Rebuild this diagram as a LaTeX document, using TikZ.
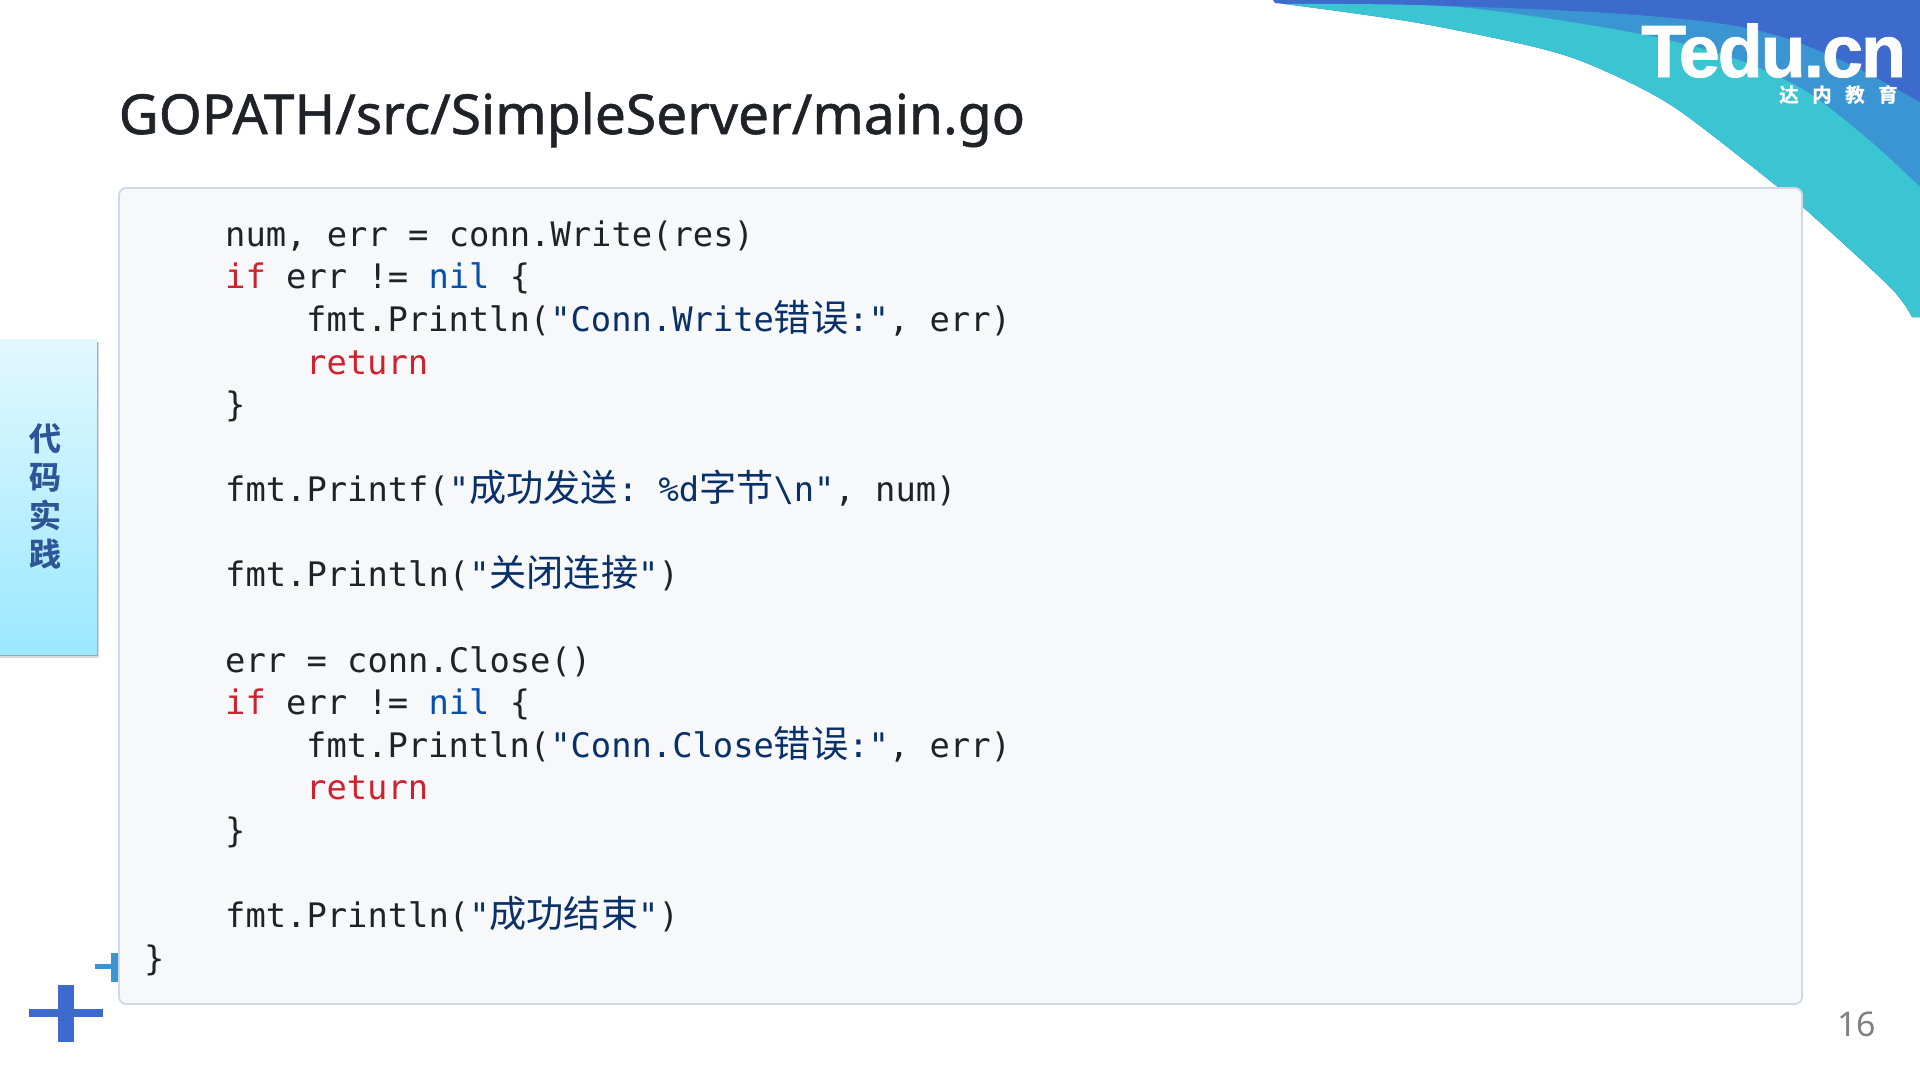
\documentclass[tikz,border=0pt]{standalone}
\usepackage{fontspec}
\setmainfont{Noto Sans}
\setmonofont{DejaVu Sans Mono}
\newfontfamily\cjkfont{Noto Sans CJK SC}[Scale=1.1]
\newfontfamily\tabfont{Noto Sans CJK SC Bold}[FakeBold=0.6]
\newfontfamily\titlefont{Noto Sans}[FakeBold=1]
\newfontfamily\logofont{Liberation Sans Bold}[LetterSpace=-3,FakeBold=1]
\definecolor{codetext}{HTML}{1F2328}
\definecolor{codekey}{HTML}{CF222E}
\definecolor{codenil}{HTML}{0550AE}
\definecolor{codestr}{HTML}{0A3069}
\definecolor{panelfill}{HTML}{F6F8FA}
\definecolor{panelline}{HTML}{CFD9E5}
\definecolor{swdark}{HTML}{3C6BCD}
\definecolor{swmid}{HTML}{3A95D2}
\definecolor{swteal}{HTML}{3BC5D2}
\definecolor{tabtop}{HTML}{E2F8FF}
\definecolor{tabbot}{HTML}{9BE8FF}
\newcommand{\cn}[1]{{\cjkfont #1}}
\newcommand{\kw}[1]{\textcolor{codekey}{#1}}
\newcommand{\nl}[1]{\textcolor{codenil}{#1}}
\newcommand{\str}[1]{\textcolor{codestr}{#1}}
\tikzset{
	codeline/.style={anchor=base west,inner sep=0pt,text=codetext,font=\fontsize{33.78}{40}\ttfamily},
	panel/.style={draw=panelline,line width=1.8pt,fill=panelfill,rounded corners=7pt},
	sidetab/.style={top color=tabtop,bottom color=tabbot,draw=none},
}
\begin{document}
\begin{tikzpicture}[x=1pt,y=-1pt]
\useasboundingbox (0,0) rectangle (1920,1080);
\begin{scope}
\clip (1273,0) -- (1275,3) -- plot[smooth] coordinates {(1285,4) (1413,22) (1535,47) (1596,67) (1674,107) (1778,187) (1804,208) (1890,287) (1912,317)} -- (1920,317) -- (1920,0) -- cycle;
\fill[swdark] (1260,0) rectangle (1920,320);
\fill[swmid] plot[smooth] coordinates {(1285,4) (1448,6) (1609,13) (1717,23) (1782,37) (1847,63) (1920,102)} -- (1920,320) -- (1285,320) -- cycle;
\fill[swteal] plot[smooth] coordinates {(1285,4) (1457,7) (1630,32) (1730,57) (1804,90) (1869,140) (1920,187)} -- (1920,320) -- (1285,320) -- cycle;
\end{scope}
\draw (1641,77) node[anchor=base west,inner sep=0pt,text=white,font=\fontsize{74}{74}\logofont] (logo) {Tedu.cn};
\draw (1779,102) node[anchor=base west,inner sep=0pt,text=white,font=\fontsize{19.5}{19}\tabfont] (logosub) {达\hspace{13.5pt}内\hspace{13.5pt}教\hspace{13.5pt}育};
\draw (118.5,134) node[anchor=base west,inner sep=0pt,text=codetext,font=\fontsize{55.1}{60}\titlefont] (title) {GOPATH/src/SimpleServer/main.go};
\fill[black!14] (0,343) rectangle (99,658);
\fill[black!36] (0,342) rectangle (98,656);
\shade[sidetab] (0,339) rectangle (97,654);
\draw (45,496) node[inner sep=0pt,align=center,text={rgb,255:red,46;green,85;blue,151},font=\fontsize{32}{38.5}\tabfont] (tab) {代\\码\\实\\践};
\fill[swdark] (29,1009) rectangle (103,1017);
\fill[swdark] (58,985) rectangle (74,1042);
\fill[swmid] (95,964) rectangle (119,969);
\fill[swmid] (111,953) rectangle (119,982);
\draw[panel] (119,188) rectangle (1802,1004);
\foreach \i/\n/\j in {
	0/1/{num, err = conn.Write(res)},
	1/1/{\kw{if} err != \nl{nil} \{},
	2/2/{fmt.Println(\str{"Conn.Write\cn{错误}:"}, err)},
	3/2/{\kw{return}},
	4/1/{\}},
	6/1/{fmt.Printf(\str{"\cn{成功发送}: \%d\cn{字节}\textbackslash n"}, num)},
	8/1/{fmt.Println(\str{"\cn{关闭连接}"})},
	10/1/{err = conn.Close()},
	11/1/{\kw{if} err != \nl{nil} \{},
	12/2/{fmt.Println(\str{"Conn.Close\cn{错误}:"}, err)},
	13/2/{\kw{return}},
	14/1/{\}},
	16/1/{fmt.Println(\str{"\cn{成功结束}"})},
	17/0/{\}}}
	\draw ({144+\n*81},{246.3+\i*42.57}) node[codeline] (line\i) {\j};
\draw (1837,1036.5) node[anchor=base west,inner sep=0pt,text=black!50,font=\fontsize{34}{34}\selectfont] (pagenum) {16};
\end{tikzpicture}
\end{document}
